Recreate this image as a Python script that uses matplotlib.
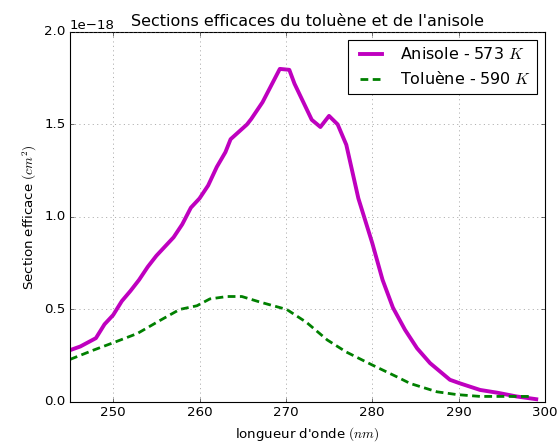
import matplotlib
matplotlib.use('Agg')
import matplotlib.pyplot as plt
import numpy as np

# Anisole 573 K
lam_anisole = [245, 246.2, 248, 249, 250, 251, 252, 253, 254, 255, 257, 258, 259, 260,
               261, 262, 263, 263.6, 265.5, 266, 267.3, 269.3, 270.4, 271, 273, 274,
               275, 276, 277, 278.4, 280, 281.2, 282.4, 283.8, 285.2, 286.7, 289, 290.2,
               292.5, 294.5, 296.7, 299]
sig_anisole = [0.28, 0.30, 0.345, 0.42, 0.47, 0.545, 0.60, 0.66, 0.73, 0.79, 0.89, 0.96,
               1.05, 1.10, 1.17, 1.27, 1.35, 1.42, 1.50, 1.53, 1.62, 1.80, 1.795, 1.72,
               1.525, 1.486, 1.546, 1.50, 1.39, 1.10, 0.86, 0.66, 0.51, 0.39, 0.29, 0.21,
               0.12, 0.10, 0.065, 0.05, 0.03, 0.015]

# Toluene 590 K
lam_toluene = [245, 247.7, 250, 252.8, 255.4, 257.7, 259.7, 261.2, 263.2, 264.9, 267,
               270.1, 272.4, 274.8, 277, 280, 282.9, 284.4, 287.5, 289.8, 292.5, 298.6]
sig_toluene = [0.23, 0.28, 0.32, 0.37, 0.44, 0.50, 0.52, 0.557, 0.57, 0.57, 0.54,
               0.50, 0.43, 0.335, 0.27, 0.20, 0.135, 0.10, 0.055, 0.04, 0.03, 0.03]

plt.style.use('classic')
plt.rcParams['figure.facecolor'] = 'white'
plt.rcParams['savefig.facecolor'] = 'white'
plt.rcParams['mathtext.fontset'] = 'cm'

fig = plt.figure(figsize=(7, 5.5375), dpi=80)
ax = fig.add_axes([0.125, 0.0926, 0.848, 0.8354])

ax.plot(lam_anisole, np.array(sig_anisole) * 1e-18, color='m', lw=3.5,
        label=r"Anisole - 573 $K$")
ax.plot(lam_toluene, np.array(sig_toluene) * 1e-18, color='g', lw=2.5, ls='--',
        label=r"Toluène - 590 $K$")
ax.lines[-1].set_dashes((7, 4))

ax.set_xlim(245, 300)
ax.set_ylim(0, 2.0e-18)
ax.set_yticks(np.arange(0, 2.01e-18, 0.5e-18))
ax.grid(True, color='0.45')
ax.set_xlabel(r"longueur d'onde $(nm)$")
ax.set_ylabel(r"Section efficace $(cm^2)$")
ax.set_title("Sections efficaces du toluène et de l'anisole")
ax.legend(loc='upper right')

fig.savefig('out.png', dpi=80)
